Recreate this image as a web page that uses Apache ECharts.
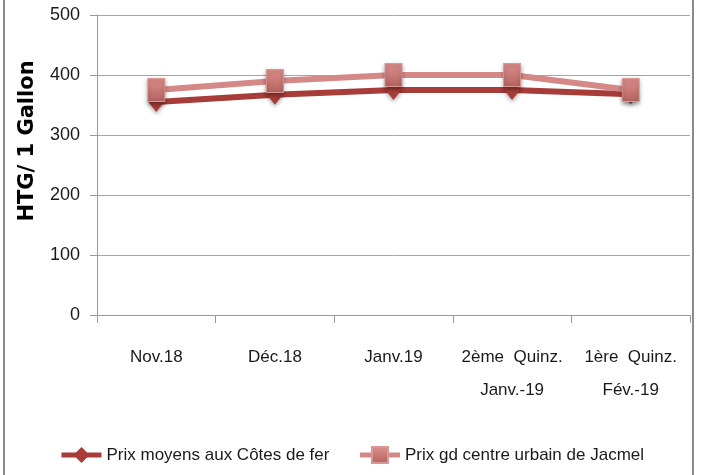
<!DOCTYPE html>
<html>
<head>
<meta charset="utf-8">
<script src="https://cdn.jsdelivr.net/npm/echarts@6/dist/echarts.min.js"></script>
<style>html,body{margin:0;padding:0;background:#fff}#c{width:703px;height:475px}</style>
</head>
<body>
<div id="c"></div>
<script>
const categories = ["Nov.18", "Déc.18", "Janv.19", "2ème  Quinz.\nJanv.-19", "1ère  Quinz.\nFév.-19"];
const seriesNames = ["Prix moyens aux Côtes de fer", "Prix gd centre urbain de Jacmel"];
const coteDeFer = [355, 367, 375, 375, 368];
const jacmel = [375, 390, 400, 400, 375];
const yTicks = { min: 0, max: 500, interval: 100 };
const axisTitle = "HTG/ 1 Gallon";

const narrow = '"Liberation Sans", Arial, sans-serif';
const chart = echarts.init(document.getElementById('c'), null, { renderer: 'canvas' });
chart.setOption({
  animation: false,
  backgroundColor: '#ffffff',
  grid: { left: 97, right: 13, top: 15, bottom: 160 },
  xAxis: {
    type: 'category',
    data: categories,
    boundaryGap: true,
    axisLine: { lineStyle: { color: '#9a9a9a', width: 1 } },
    axisTick: { show: true, length: 8, inside: false, lineStyle: { color: '#9a9a9a' } },
    axisLabel: { color: '#1a1a1a', fontFamily: narrow, fontSize: 17, lineHeight: 33, margin: 26, interval: 0 },
    splitLine: { show: false }
  },
  yAxis: {
    type: 'value',
    min: yTicks.min, max: yTicks.max, interval: yTicks.interval,
    axisLine: { show: true, lineStyle: { color: '#9a9a9a', width: 1 } },
    axisTick: { show: true, length: 7, lineStyle: { color: '#9a9a9a' } },
    axisLabel: { color: '#1a1a1a', fontFamily: narrow, fontSize: 18, margin: 17 },
    splitLine: { show: true, lineStyle: { color: '#a6a6a6', width: 1 } }
  },
  legend: {
    bottom: 6,
    left: 'center',
    itemWidth: 40,
    itemHeight: 20,
    itemGap: 28,
    lineStyle: { width: 5 },
    textStyle: { color: '#1a1a1a', fontFamily: narrow, fontSize: 17 },
    data: seriesNames
  },
  graphic: [
    { type: 'rect', shape: { x: 4, y: -5, width: 689, height: 490 }, style: { fill: 'none', stroke: '#8a8a8a', lineWidth: 2 }, silent: true },
    { type: 'text', x: 28, y: 141, rotation: Math.PI / 2,
      style: { text: axisTitle, fontFamily: '"DejaVu Sans", sans-serif', fontWeight: 'bold', fontSize: 21, fill: '#000', align: 'center', verticalAlign: 'middle' } }
  ],
  series: [
    {
      name: seriesNames[0],
      type: 'line',
      data: coteDeFer,
      symbol: 'diamond',
      symbolSize: [16, 20],
      lineStyle: { color: '#a83c39', width: 6 },
      itemStyle: { color: '#a83c39', shadowColor: 'rgba(0,0,0,0.35)', shadowBlur: 4, shadowOffsetY: 2 },
      z: 2
    },
    {
      name: seriesNames[1],
      type: 'line',
      data: jacmel,
      symbol: 'rect',
      symbolSize: [17, 23],
      lineStyle: { color: '#d58987', width: 6 },
      itemStyle: {
        color: new echarts.graphic.LinearGradient(0, 0, 0, 1, [
          { offset: 0, color: '#e0908e' },
          { offset: 1, color: '#b2625f' }
        ]),
        borderColor: '#d99896', borderWidth: 1,
        shadowColor: 'rgba(0,0,0,0.35)', shadowBlur: 4, shadowOffsetY: 2
      },
      z: 3
    }
  ]
});
</script>
</body>
</html>
